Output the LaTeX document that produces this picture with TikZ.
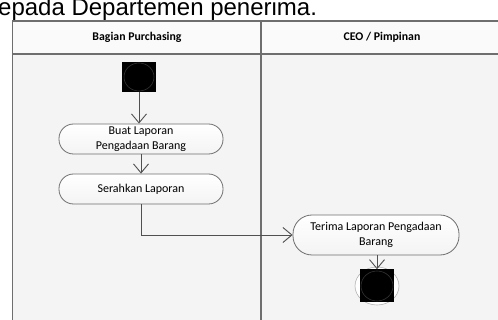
\documentclass[tikz,border=0pt]{standalone}
\usepackage{fontspec}
\setmainfont{Carlito}
\newfontfamily\captionfont{Liberation Sans}
\usetikzlibrary{arrows.meta}

\definecolor{frameline}{HTML}{6E6E6E}
\definecolor{flowline}{HTML}{505050}
\definecolor{lanefill}{HTML}{F4F4F4}

\tikzset{
  lane/.style={draw=frameline, line width=1.4pt},
  act/.style={draw=frameline, line width=0.8pt, rounded corners=14.5pt,
    top color=white, bottom color=gray!9, align=center, inner sep=2pt,
    minimum width=164pt, minimum height=30pt, font=\fontsize{12}{14.5}\selectfont},
  flow/.style={draw=flowline, line width=0.9pt,
    -{Straight Barb[length=9pt, width=15pt, line width=0.9pt]}},
  blacksq/.style={fill=black, draw=none, inner sep=0pt},
  lanehead/.style={font=\bfseries\fontsize{11.8}{13}\selectfont},
}

\begin{document}
\begin{tikzpicture}[x=1pt, y=-1pt]
\useasboundingbox (0,0) rectangle (498,320);

% caption line running above the diagram
\node[anchor=base west, inner sep=0pt, font=\captionfont\fontsize{24}{26}\selectfont]
  (caption) at (-2,15.5) {epada Departemen penerima.};

% swimlane frame
\fill[lanefill] (12.7,21) rectangle (505,325);
\fill[gray!4] (12.7,21) rectangle (505,54);
\draw[lane] (505,21) -- (12.7,21) -- (12.7,325);
\draw[lane] (12.7,54) -- (505,54);
\draw[lane] (261,21) -- (261,325);

\node[lanehead] (laneA) at (137,37.5) {Bagian Purchasing};
\node[lanehead] (laneB) at (382,37.5) {CEO / Pimpinan};

% initial state
\node[blacksq, minimum width=34pt, minimum height=30pt] (start) at (139,77) {};
\draw[gray!40!black, line width=0.6pt] (start.center) ellipse [x radius=15pt, y radius=14pt];

% activities
\node[act] (a1) at (141,139) {Buat Laporan\\Pengadaan Barang};
\node[act] (a2) at (141,189) {Serahkan Laporan};
\node[act, minimum width=166pt, minimum height=40pt, rounded corners=19pt] (a3) at (376,235)
  {Terima Laporan Pengadaan\\Barang};

% final state
\coordinate (endc) at (377,286);
\draw[gray!60, line width=0.6pt, fill=white] (endc) ellipse [x radius=22pt, y radius=19pt];
\node[blacksq, minimum width=34pt, minimum height=33pt] (finish) at (endc) {};
\draw[gray!40!black, line width=0.6pt] (endc) ellipse [x radius=16pt, y radius=15pt];

% control flow
\draw[flow] (start.south) -- (start.south |- a1.north);
\draw[flow] (a1.south) -- (a2.north);
\draw[flow] (a2.south) |- (a3.west);
\draw[flow] (a3.south -| finish.north) -- (finish.north);
\end{tikzpicture}
\end{document}
